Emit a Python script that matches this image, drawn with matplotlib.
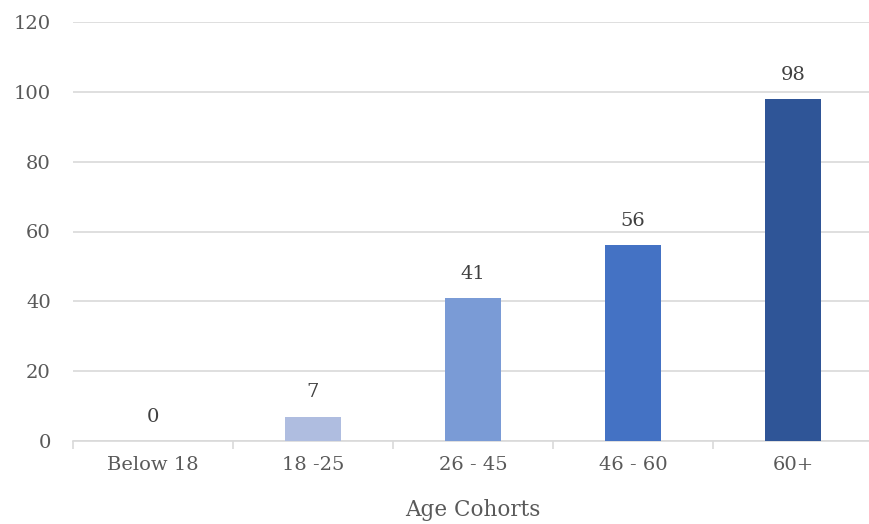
import matplotlib
matplotlib.use("Agg")
import matplotlib.pyplot as plt
from matplotlib.ticker import FixedLocator

categories = ["Below 18", "18 -25", "26 - 45", "46 - 60", "60+"]
values = [0, 7, 41, 56, 98]
colors = ["#B4C7E7", "#AFBDE0", "#7A9BD6", "#4472C4", "#2F5597"]
yticks = [0, 20, 40, 60, 80, 100, 120]
xlabel = "Age Cohorts"

plt.rcParams['font.family'] = ['DejaVu Serif']
txt = "#595959"
grid = "#D9D9D9"

fig = plt.figure(figsize=(8.7, 5.24), dpi=100)
ax = fig.add_axes([73/870, (524-441)/524, 800/870, (441-22)/524])

x = list(range(len(categories)))
bars = ax.bar(x, values, width=0.356, color=colors, zorder=3)
for xi, v in zip(x, values):
    ax.annotate(str(v), (xi, v), xytext=(0, 11), textcoords="offset points",
                ha="center", va="bottom", fontsize=14, color="#404040")

ax.set_xlim(-0.5, 4.5)
ax.set_ylim(0, 120)
ax.set_yticks(yticks)
ax.yaxis.grid(True, color=grid, linewidth=1.2, zorder=0)
ax.tick_params(axis="y", length=0, pad=16, labelsize=14, labelcolor=txt)
ax.set_xticks(x)
ax.set_xticklabels(categories)
ax.tick_params(axis="x", which="major", length=0, pad=11, labelsize=14, labelcolor=txt)
ax.xaxis.set_minor_locator(FixedLocator([i - 0.5 for i in range(len(categories) + 1)]))
ax.tick_params(axis="x", which="minor", length=6, width=1.2, color=grid)
for s in ["top", "right", "left"]:
    ax.spines[s].set_visible(False)
ax.spines["bottom"].set_color(grid)
ax.spines["bottom"].set_linewidth(1.2)
ax.set_xlabel(xlabel, fontsize=15.5, color=txt, labelpad=18)

fig.savefig("out.png", dpi=100)
